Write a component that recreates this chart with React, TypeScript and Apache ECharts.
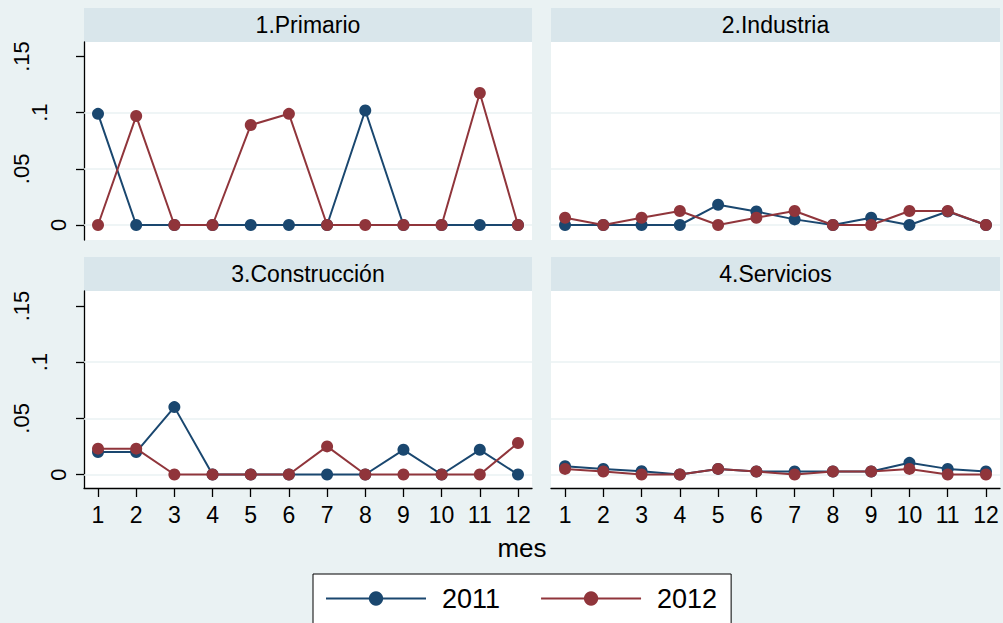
import React, { useEffect, useRef } from 'react';
import * as echarts from 'echarts';

// ---------------- data ----------------
const months = [1, 2, 3, 4, 5, 6, 7, 8, 9, 10, 11, 12];
const panelTitles = ['1.Primario', '2.Industria', '3.Construcción', '4.Servicios'];
const yearNames = ['2011', '2012'];

const primario2011 = [0.099, 0, 0, 0, 0, 0, 0, 0.102, 0, 0, 0, 0];
const primario2012 = [0, 0.097, 0, 0, 0.089, 0.099, 0, 0, 0, 0, 0.1175, 0];
const industria2011 = [0, 0, 0, 0, 0.018, 0.012, 0.005, 0, 0.0065, 0, 0.012, 0];
const industria2012 = [0.0065, 0, 0.0065, 0.0125, 0, 0.0065, 0.0125, 0, 0, 0.0125, 0.0125, 0];
const construccion2011 = [0.02, 0.02, 0.06, 0, 0, 0, 0, 0, 0.022, 0, 0.022, 0];
const construccion2012 = [0.023, 0.023, 0, 0, 0, 0, 0.025, 0, 0, 0, 0, 0.028];
const servicios2011 = [0.0074, 0.005, 0.003, 0, 0.005, 0.0027, 0.0027, 0.0027, 0.0027, 0.0104, 0.005, 0.0027];
const servicios2012 = [0.005, 0.0027, 0, 0, 0.005, 0.0027, 0, 0.0027, 0.0027, 0.005, 0, 0];

const panelData = [
  [primario2011, primario2012],
  [industria2011, industria2012],
  [construccion2011, construccion2012],
  [servicios2011, servicios2012],
];

const yTickValues = [0, 0.05, 0.1, 0.15];
const yTickLabels = ['0', '.05', '.1', '.15'];
const yGridValues = [0, 0.05, 0.1];

// ---------------- styling ----------------
const COLORS = ['#1A476F', '#90353B'];
const BG = '#EAF2F3';
const STRIP = '#D9E6EB';
const FONT = '"Liberation Sans", Arial, Helvetica, sans-serif';

const grids = [
  { left: 84, top: 42, width: 448, height: 198 },
  { left: 551, top: 42, width: 449, height: 198 },
  { left: 84, top: 291, width: 448, height: 197 },
  { left: 551, top: 291, width: 449, height: 197 },
];
const yRanges = [
  [-0.01336, 0.16296],
  [-0.01336, 0.16296],
  [-0.01202, 0.1634],
  [-0.01202, 0.1634],
];
const xRange = [0.633, 12.367];
const yLabelMargins = [15, 52, 34, 52];

export default function App() {
  const ref = useRef<HTMLDivElement>(null);

  useEffect(() => {
    if (!ref.current) return;
    const chart = echarts.init(ref.current, undefined, { renderer: 'svg' });

    const xAxes: any[] = grids.map((_, i) => {
      const bottomRow = i >= 2;
      return {
        type: 'value',
        gridIndex: i,
        min: xRange[0],
        max: xRange[1],
        show: bottomRow,
        position: 'bottom',
        splitLine: { show: false },
        axisLine: { show: true, onZero: false, lineStyle: { color: '#000', width: 1.3 } },
        axisTick: {
          show: true,
          length: 9,
          customValues: months,
          lineStyle: { color: '#000', width: 1.3 },
        },
        axisLabel: {
          show: true,
          customValues: months,
          margin: 15,
          fontSize: 23,
          fontFamily: FONT,
          color: '#000',
          formatter: (v: number) => String(Math.round(v)),
        },
      };
    });

    const yAxes: any[] = grids.map((_, i) => {
      const leftCol = i % 2 === 0;
      return {
        type: 'value',
        gridIndex: i,
        min: yRanges[i][0],
        max: yRanges[i][1],
        show: leftCol,
        position: 'left',
        splitLine: { show: false },
        axisLine: { show: true, onZero: false, lineStyle: { color: '#000', width: 1.3 } },
        axisTick: {
          show: true,
          length: 8,
          customValues: yTickValues,
          lineStyle: { color: '#000', width: 1.3 },
        },
        axisLabel: { show: false },
      };
    });

    // label-only axes for the rotated, staggered y labels (left column)
    [0, 2].forEach((gi) => {
      yTickValues.forEach((v, k) => {
        yAxes.push({
          type: 'value',
          gridIndex: gi,
          min: yRanges[gi][0],
          max: yRanges[gi][1],
          position: 'left',
          offset: 0,
          splitLine: { show: false },
          axisLine: { show: false },
          axisTick: { show: false },
          axisLabel: {
            show: true,
            customValues: [v],
            rotate: 90,
            margin: yLabelMargins[k],
            fontSize: 22,
            fontFamily: FONT,
            color: '#000',
            formatter: () => yTickLabels[k],
          },
        });
      });
    });

    const series: any[] = [];
    panelData.forEach((pair, p) => {
      pair.forEach((vals, y) => {
        series.push({
          type: 'line',
          name: yearNames[y],
          xAxisIndex: p,
          yAxisIndex: p,
          data: months.map((m, i) => [m, vals[i]]),
          symbol: 'circle',
          symbolSize: 12,
          showSymbol: true,
          color: COLORS[y],
          lineStyle: { color: COLORS[y], width: 2 },
          itemStyle: { color: COLORS[y] },
          z: 3 + y,
          markLine:
            y === 0
              ? {
                  silent: true,
                  z: 1,
                  symbol: ['none', 'none'],
                  label: { show: false },
                  lineStyle: { color: BG, width: 1.5, type: 'solid' },
                  emphasis: { disabled: true },
                  data: yGridValues.map((g) => ({ yAxis: g })),
                }
              : undefined,
        });
      });
    });

    const graphics: any[] = [];
    grids.forEach((g, i) => {
      graphics.push({
        type: 'rect',
        z: -1,
        shape: { x: g.left, y: g.top - 34, width: g.width, height: 34 },
        style: { fill: STRIP },
      });
      graphics.push({
        type: 'text',
        x: g.left + g.width / 2,
        y: g.top - 17,
        style: {
          text: panelTitles[i],
          fontSize: 23,
          fontFamily: FONT,
          fill: '#000',
          align: 'center',
          verticalAlign: 'middle',
        },
      });
    });
    graphics.push({
      type: 'text',
      x: 522,
      y: 548,
      style: {
        text: 'mes',
        fontSize: 26,
        fontFamily: FONT,
        fill: '#000',
        align: 'center',
        verticalAlign: 'middle',
      },
    });

    chart.setOption({
      animation: false,
      backgroundColor: BG,
      grid: grids.map((g) => ({
        ...g,
        show: true,
        backgroundColor: '#fff',
        borderWidth: 0,
        containLabel: false,
        outerBoundsMode: 'none',
      })),
      xAxis: xAxes,
      yAxis: yAxes,
      series,
      graphic: graphics,
      legend: {
        data: yearNames,
        left: 313,
        top: 574,
        orient: 'horizontal',
        backgroundColor: '#fff',
        borderColor: '#000',
        borderWidth: 1,
        borderRadius: 0,
        padding: [11, 14, 40, 12],
        itemWidth: 100,
        itemHeight: 18,
        itemGap: 40,
        selectedMode: false,
        textStyle: {
          fontSize: 27,
          fontFamily: FONT,
          color: '#000',
          padding: [0, 0, 0, 11],
        },
      },
    });

    return () => chart.dispose();
  }, []);

  return (
    <div
      ref={ref}
      style={{ position: 'absolute', left: 0, top: 0, width: 1003, height: 623 }}
    />
  );
}
